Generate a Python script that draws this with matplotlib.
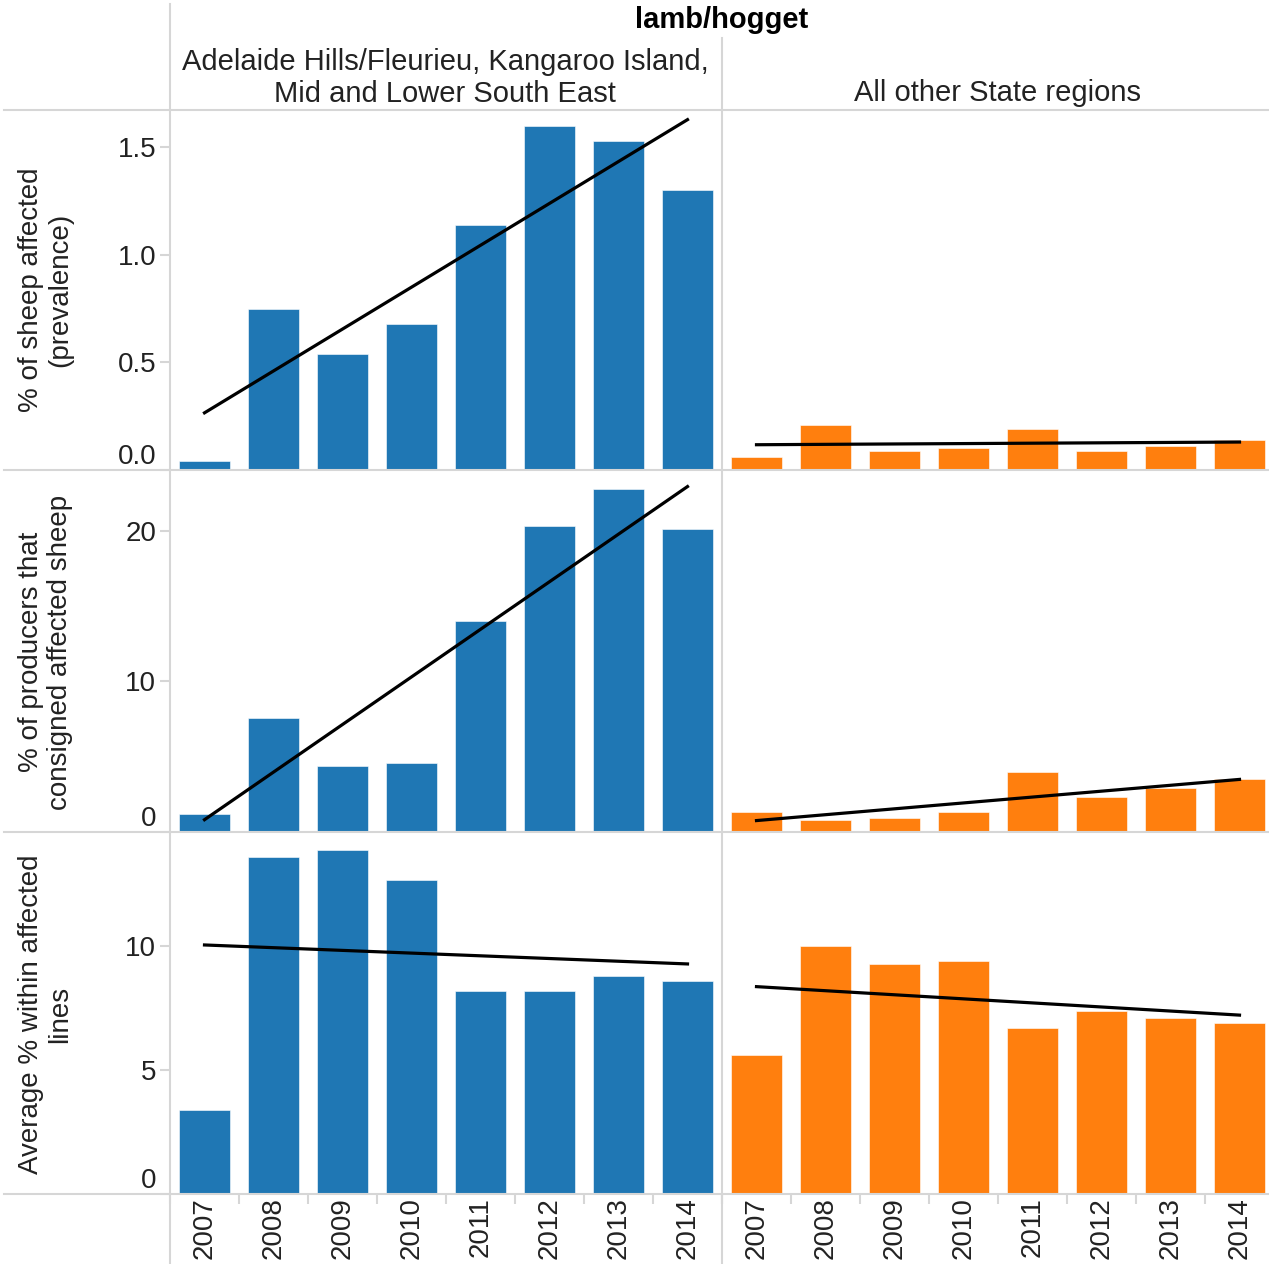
import numpy as np
import matplotlib.pyplot as plt
from matplotlib.lines import Line2D

plt.rcParams['font.family'] = ['Liberation Sans', 'DejaVu Sans']

years = ['2007', '2008', '2009', '2010', '2011', '2012', '2013', '2014']
regions = ['Adelaide Hills/Fleurieu, Kangaroo Island,\nMid and Lower South East',
           'All other State regions']
row_labels = ['% of sheep affected\n(prevalence)',
              '% of producers that\nconsigned affected sheep',
              'Average % within affected\nlines']

prev_hills = [0.04, 0.75, 0.54, 0.68, 1.14, 1.60, 1.53, 1.30]
prev_other = [0.06, 0.21, 0.09, 0.10, 0.19, 0.09, 0.11, 0.14]
prod_hills = [1.2, 7.6, 4.4, 4.6, 14.0, 20.3, 22.8, 20.1]
prod_other = [1.3, 0.8, 0.9, 1.3, 4.0, 2.3, 2.9, 3.5]
avg_hills = [3.4, 13.6, 13.9, 12.7, 8.2, 8.2, 8.8, 8.6]
avg_other = [5.6, 10.0, 9.3, 9.4, 6.7, 7.4, 7.1, 6.9]

rows = [(prev_hills, prev_other), (prod_hills, prod_other), (avg_hills, avg_other)]
y_max = [1.674, 23.9, 14.54]
y_ticks = [[0.0, 0.5, 1.0, 1.5], [0, 10, 20], [0, 5, 10]]
y_fmt = ['{:.1f}', '{:.0f}', '{:.0f}']
colors = ['#1f77b4', '#ff7f0e']

W, H = 1269, 1264
fig = plt.figure(figsize=(W / 100, H / 100), dpi=100)
grid_c = '#d6d6d6'
text_c = '#222222'
fs = 20
hfs = 21

col_x = [170, 722]
col_w = 552
row_top = [110, 472, 834]
row_h = 360

x = np.arange(len(years))
for r, (vals_pair, ymax) in enumerate(zip(rows, y_max)):
    for c in range(2):
        ax = fig.add_axes([col_x[c] / W, (H - row_top[r] - row_h) / H, col_w / W, row_h / H])
        vals = np.array(vals_pair[c])
        ax.bar(x, vals, width=0.725, color=colors[c], edgecolor='white', linewidth=0.4, zorder=2)
        # least-squares trend across the years
        k, b = np.polyfit(x, vals, 1)
        ax.plot([x[0], x[-1]], [b, b + k * x[-1]], color='black', lw=2.3, zorder=3)
        ax.set_xlim(-0.5, 7.5)
        ax.set_ylim(0, ymax)
        for s in ax.spines.values():
            s.set_visible(False)
        ax.patch.set_alpha(0)
        if c == 0:
            ax.set_yticks(y_ticks[r])
            ax.set_yticklabels([y_fmt[r].format(t) for t in y_ticks[r]])
            ax.tick_params(axis='y', length=7, width=1.5, color=grid_c, labelsize=fs,
                           labelcolor=text_c, pad=3)
            ax.get_yticklabels()[0].set_va('bottom')
        else:
            ax.set_yticks([])
        if r == 2:
            ax.set_xticks(x)
            ax.set_xticklabels(years, rotation=90, fontsize=fs, color=text_c)
            ax.set_xticks(np.arange(-0.5, 8, 1), minor=True)
            ax.tick_params(axis='x', which='major', length=0, pad=2)
            ax.tick_params(axis='x', which='minor', length=7, width=1.5, color=grid_c)
        else:
            ax.set_xticks([])
    fig.text(46 / W, 1 - (row_top[r] + row_h / 2) / H, row_labels[r], rotation=90,
             ha='center', va='center', multialignment='center', fontsize=fs,
             color=text_c, linespacing=1.15)

# pane borders
def hline(y, x0=4, x1=W):
    fig.add_artist(Line2D([x0 / W, x1 / W], [1 - y / H, 1 - y / H], color=grid_c, lw=1.5))

def vline(xp, y0, y1=H):
    fig.add_artist(Line2D([xp / W, xp / W], [1 - y0 / H, 1 - y1 / H], color=grid_c, lw=1.5))

for y in [110, 470, 832, 1194]:
    hline(y)
vline(170, 4)
vline(722, 38)

fig.text(722 / W, 1 - 20 / H, 'lamb/hogget', ha='center', va='center',
         fontsize=hfs, fontweight='bold', color='black')
fig.text(445 / W, 1 - 78 / H, regions[0], ha='center', va='center', fontsize=hfs,
         color=text_c, linespacing=1.15)
fig.text(997 / W, 1 - 93 / H, regions[1], ha='center', va='center', fontsize=hfs,
         color=text_c)

fig.savefig('out.png', dpi=100)
